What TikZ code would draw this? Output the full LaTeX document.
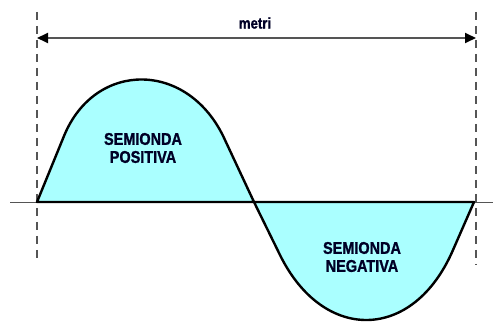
\documentclass[tikz,border=0pt]{standalone}
\usepackage{fontspec}
\setmainfont{Liberation Sans}[FakeStretch=0.85, BoldFeatures={FakeBold=1.2}]
\usetikzlibrary{arrows.meta}
\definecolor{wave}{RGB}{170,255,255}
\definecolor{guide}{RGB}{85,85,85}
\tikzset{
  hump/.style={draw=black, fill=wave, line width=2.4pt, line join=round},
  guideline/.style={draw=guide, line width=1.4pt, dash pattern=on 8pt off 6pt},
  axisline/.style={draw=guide, line width=0.9pt},
  dimline/.style={draw=guide, line width=1.8pt, {Triangle[length=11pt,width=10pt,fill=black,color=black]}-{Triangle[length=11pt,width=10pt,fill=black,color=black]}},
  lbl/.style={font=\bfseries\fontsize{17}{19}\selectfont, align=center, inner sep=0pt, text=black!85!blue},
}
\begin{document}
\begin{tikzpicture}[x=1pt,y=-1pt]
\useasboundingbox (0,0) rectangle (493,323);
% axis
\coordinate (axL) at (10,202);
\coordinate (axR) at (493,202);
\draw[axisline] (axL) -- (axR);
% dashed guides
\coordinate (gLt) at (37,12);
\coordinate (gLb) at (37,262);
\coordinate (gRt) at (476,12);
\coordinate (gRb) at (476,265);
\draw[guideline] (gLt) -- (gLb);
\draw[guideline] (gRt) -- (gRb);
% humps
\coordinate (z0) at (37,202);
\coordinate (z1) at (254,202);
\coordinate (z2) at (474,202);
\draw[hump] (z0) -- (64,136) .. controls (95,60) and (189,60) .. (225,140) -- (z1) -- cycle;
\draw[hump] (z1) -- (280,255) .. controls (323,342.5) and (413,342.5) .. (453,250) -- (z2) -- cycle;
% dimension arrow
\coordinate (aL) at (37,38);
\coordinate (aR) at (476,38);
\draw[dimline] (aL) -- (aR);
\node[lbl, font=\bfseries\fontsize{15.5}{17}\selectfont] (metri) at (255,23) {metri};
\node[lbl] (pos) at (143,148) {SEMIONDA\\[-1pt]POSITIVA};
\node[lbl] (neg) at (362,257) {SEMIONDA\\[-1pt]NEGATIVA};
\end{tikzpicture}
\end{document}
